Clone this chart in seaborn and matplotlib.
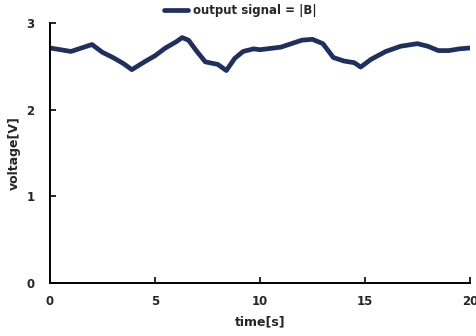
import matplotlib
matplotlib.use("Agg")
import matplotlib.pyplot as plt
import numpy as np
import pandas as pd
import seaborn as sns

# values
time_s = [0.0, 0.5, 1.0, 1.5, 2.0, 2.5, 3.0, 3.5, 3.9, 4.5, 5.0, 5.5, 6.0, 6.3, 6.6,
          7.0, 7.4, 8.0, 8.4, 8.8, 9.2, 9.7, 10.0, 11.0, 12.0, 12.5, 13.0, 13.5,
          14.0, 14.5, 14.8, 15.3, 16.0, 16.7, 17.5, 18.0, 18.5, 19.0, 19.5, 20.0]
voltage = [2.71, 2.69, 2.67, 2.71, 2.75, 2.66, 2.60, 2.53, 2.46, 2.55, 2.62, 2.71,
           2.78, 2.83, 2.80, 2.67, 2.55, 2.52, 2.45, 2.59, 2.67, 2.70, 2.69, 2.72,
           2.80, 2.81, 2.76, 2.60, 2.56, 2.54, 2.49, 2.58, 2.67, 2.73, 2.76, 2.73,
           2.68, 2.68, 2.70, 2.71]
x_ticks = [0, 5, 10, 15, 20]
y_ticks = [0, 1, 2, 3]

sns.set_style("ticks")
plt.rcParams["font.family"] = ["DejaVu Sans"]
plt.rcParams["font.weight"] = "bold"

df = pd.DataFrame({"time": time_s, "voltage": voltage})

fig = plt.figure(figsize=(4.76, 3.36), dpi=100)
ax = fig.add_axes([0.105, 0.158, 0.882, 0.774])
sns.lineplot(data=df, x="time", y="voltage", ax=ax, color="#1f2f60", lw=3.4,
             label="output signal = |B|", legend=False)

ax.set_xlim(0, 20)
ax.set_ylim(0, 3)
ax.set_xticks(x_ticks)
ax.set_yticks(y_ticks)
ax.tick_params(direction="in", length=4, width=1.2, labelsize=8.5, color="black")
for lbl in ax.get_xticklabels() + ax.get_yticklabels():
    lbl.set_fontweight("bold")
ax.tick_params(axis="y", pad=11)
ax.tick_params(axis="x", pad=9)
ax.set_xlabel("time[s]", fontsize=9, fontweight="bold", labelpad=5)
ax.set_ylabel("voltage[V]", fontsize=9, fontweight="bold", labelpad=4)
for s in ["left", "bottom"]:
    ax.spines[s].set_linewidth(1.4)
    ax.spines[s].set_color("black")
sns.despine(ax=ax)

handles, labels = ax.get_legend_handles_labels()
fig.legend(handles, labels, loc="upper center", bbox_to_anchor=(0.505, 1.02),
           frameon=False, handlelength=2.0, handletextpad=0.4,
           prop={"weight": "bold", "size": 8.5})

fig.savefig("out.png", dpi=100)
